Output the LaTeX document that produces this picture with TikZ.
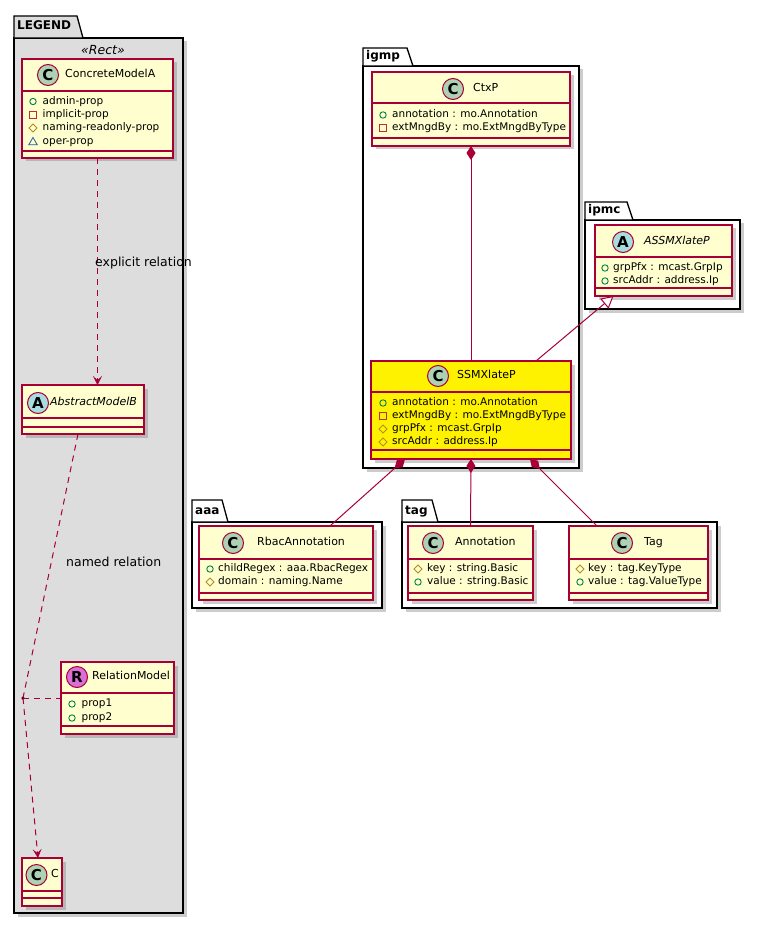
\documentclass[tikz,border=0pt]{standalone}
\usepackage{fontspec}
\setmainfont{DejaVu Sans}
\usetikzlibrary{arrows.meta,shadows}
\definecolor{umlred}{HTML}{A80036}
\definecolor{umlfill}{HTML}{FEFECE}
\definecolor{iconC}{HTML}{ADD1B2}
\definecolor{iconA}{HTML}{A9DCDF}
\definecolor{iconR}{HTML}{DA70D6}
\definecolor{legendgray}{HTML}{DDDDDD}
\definecolor{pubgreen}{HTML}{038048}
\definecolor{privred}{HTML}{C82930}
\definecolor{protgold}{HTML}{B38D22}
\definecolor{pkgblue}{HTML}{1963A0}
\tikzset{
  umlshadow/.style={drop shadow={shadow xshift=3.5pt, shadow yshift=-3.5pt, fill=black!50, opacity=0.4}},
  classbox/.style={rectangle, draw=umlred, line width=1.5pt, inner sep=0pt, outer sep=0pt, umlshadow},
  secline/.style={draw=umlred, line width=1.5pt},
  iconnode/.style={circle, draw=umlred, line width=1pt, minimum size=21pt, inner sep=0pt, font=\fontsize{15}{15}\selectfont\bfseries},
  cname/.style={anchor=west, inner sep=0pt, font=\fontsize{11}{13}\selectfont, text height=8pt, text depth=2.5pt},
  member/.style={anchor=west, inner sep=0pt, font=\fontsize{10.5}{12}\selectfont, text height=7.5pt, text depth=2pt},
  pkgline/.style={draw=black, line width=1.3pt},
  pkgtitle/.style={anchor=west, inner sep=0pt, font=\fontsize{12}{14}\selectfont\bfseries, text height=8.5pt, text depth=2.5pt},
  elabel/.style={anchor=west, inner sep=0pt, font=\fontsize{12.5}{14}\selectfont, text height=9pt, text depth=2.5pt},
  stereo/.style={inner sep=0pt, font=\fontsize{12.5}{14}\selectfont\itshape},
  edge/.style={draw=umlred, line width=1pt},
  dashedge/.style={edge, dash pattern=on 6pt off 5pt},
  dep/.style={dashedge, -{Stealth[length=9pt,width=9pt,inset=4pt,fill=umlred]}},
  comp/.style={edge, {Diamond[length=14pt,width=9pt,fill=umlred]}-},
  gen/.style={edge, -{Triangle[length=12pt,width=13pt,fill=white]}},
}
% #1 name, #2 left, #3 top, #4 right, #5 bottom, #6 name-section bottom, #7 attribute-section bottom, #8 fill
\newcommand\umlclass[8]{%
  \pgfmathsetmacro\clw{#4-#2}\pgfmathsetmacro\clh{#5-#3}%
  \pgfmathsetmacro\clx{(#2+#4)/2}\pgfmathsetmacro\cly{(#3+#5)/2}%
  \node[classbox, fill=#8, minimum width=\clw pt, minimum height=\clh pt] (#1) at (\clx,\cly) {};
  \draw[secline] (#2,#6) -- (#4,#6);
  \draw[secline] (#2,#7) -- (#4,#7);
}
% #1 name, #2 title, #3 left, #4 tabtop, #5 bodytop, #6 right, #7 bottom, #8 tabright, #9 fill
\newcommand\umlpkg[9]{%
  \draw[pkgline, fill=#9, umlshadow] (#3,#5) rectangle (#6,#7);
  \draw[pkgline, fill=#9] (#3,#5) -- (#3,#4) -- (#8-6,#4) -- (#8,#5) -- cycle;
  \node[pkgtitle] (#1) at (#3+3,{(#4+#5)/2}) {#2};
}
\newcommand\vpub[2]{\draw[pubgreen, line width=0.9pt] (#1,#2) circle (3.2pt);}
\newcommand\vpriv[2]{\draw[privred, line width=0.9pt] (#1-3.2,#2-3.2) rectangle (#1+3.2,#2+3.2);}
\newcommand\vprot[2]{\draw[protgold, line width=0.8pt] (#1,#2-4) -- (#1+4,#2) -- (#1,#2+4) -- (#1-4,#2) -- cycle;}
\newcommand\vpkg[2]{\draw[pkgblue, line width=0.8pt] (#1-4.2,#2+3.2) -- (#1+4.2,#2+3.2) -- (#1,#2-4) -- cycle;}
\begin{document}
\begin{tikzpicture}[x=1pt,y=-1pt]
\useasboundingbox (0,0) rectangle (760,925);
\fill[white] (0,0) rectangle (760,925);

% ---------- packages ----------
\umlpkg{pLEGEND}{LEGEND}{14}{16}{38}{183}{913}{83}{legendgray}
\umlpkg{pigmp}{igmp}{363}{48}{66}{579}{468}{413}{white}
\umlpkg{pipmc}{ipmc}{585}{202}{220}{740}{309}{633}{white}
\umlpkg{paaa}{aaa}{192}{500}{522}{382}{608}{228}{white}
\umlpkg{ptag}{tag}{402}{500}{522}{717}{608}{438}{white}
\node[stereo] (stRect) at (103,50) {«Rect»};

% ---------- LEGEND classes ----------
\umlclass{conA}{22}{59}{173}{158}{91}{151}{umlfill}
\node[iconnode, fill=iconC] (iconA1) at (48,75) {C};
\node[cname] (nconA) at (65,75) {ConcreteModelA};
\vpub{33}{101.5}\node[member] (m1) at (42.5,101.5) {admin-prop};
\vpriv{33}{115}\node[member] (m2) at (42.5,115) {implicit-prop};
\vprot{33}{128}\node[member] (m3) at (42.5,128) {naming-readonly-prop};
\vpkg{33}{141.5}\node[member] (m4) at (42.5,141.5) {oper-prop};

\umlclass{absB}{22}{385}{144}{434}{418}{427}{umlfill}
\node[iconnode, fill=iconA] (iconB1) at (38,403) {A};
\node[cname, font=\fontsize{11}{13}\selectfont\itshape] (nabsB) at (50,403) {AbstractModelB};

\umlclass{relM}{61}{662}{174}{734}{693}{726}{umlfill}
\node[iconnode, fill=iconR] (iconR1) at (77,677) {R};
\node[cname] (nrelM) at (92,677) {RelationModel};
\vpub{72}{704}\node[member] (m5) at (81.5,704) {prop1};
\vpub{72}{718}\node[member] (m6) at (81.5,718) {prop2};

\umlclass{clsC}{22}{858}{62}{906}{891}{898}{umlfill}
\node[iconnode, fill=iconC] (iconC1) at (36.5,875) {C};
\node[cname] (nclsC) at (51,875) {C};

\node[circle, fill=black, inner sep=0pt, minimum size=3.5pt] (rdot) at (23,698) {};

% ---------- igmp ----------
\umlclass{ctxp}{372}{72}{570}{146}{103}{138}{umlfill}
\node[iconnode, fill=iconC] (iconCt) at (453,89) {C};
\node[cname] (nctxp) at (473,89) {CtxP};
\vpub{383}{115}\node[member] (m7) at (392,115) {annotation : mo.Annotation};
\vpriv{383}{128}\node[member] (m8) at (392,128) {extMngdBy : mo.ExtMngdByType};

\umlclass{ssm}{371}{361}{571}{459}{392}{450}{yellow}
\node[iconnode, fill=iconC] (iconSs) at (438,376) {C};
\node[cname] (nssm) at (457,376) {SSMXlateP};
\vpub{383}{403}\node[member] (m9) at (392,403) {annotation : mo.Annotation};
\vpriv{383}{416}\node[member] (m10) at (392,416) {extMngdBy : mo.ExtMngdByType};
\vprot{383}{429}\node[member] (m11) at (392,429) {grpPfx : mcast.GrpIp};
\vprot{383}{442}\node[member] (m12) at (392,442) {srcAddr : address.Ip};

% ---------- ipmc ----------
\umlclass{assm}{595}{225}{732}{296}{257}{288}{umlfill}
\node[iconnode, fill=iconA] (iconAs) at (623,242) {A};
\node[cname, font=\fontsize{11}{13}\selectfont\itshape] (nassm) at (644,242) {ASSMXlateP};
\vpub{605}{268}\node[member] (m13) at (613,268) {grpPfx : mcast.GrpIp};
\vpub{605}{281}\node[member] (m14) at (613,281) {srcAddr : address.Ip};

% ---------- aaa ----------
\umlclass{rbac}{199}{526}{373}{600}{559}{593}{umlfill}
\node[iconnode, fill=iconC] (iconRb) at (233,543) {C};
\node[cname] (nrbac) at (257,543) {RbacAnnotation};
\vpub{210}{569}\node[member] (m15) at (218,569) {childRegex : aaa.RbacRegex};
\vprot{210}{582}\node[member] (m16) at (218,582) {domain : naming.Name};

% ---------- tag ----------
\umlclass{annot}{408}{526}{533}{600}{559}{593}{umlfill}
\node[iconnode, fill=iconC] (iconAn) at (433,543) {C};
\node[cname] (nannot) at (455,543) {Annotation};
\vprot{418}{569}\node[member] (m17) at (427,569) {key : string.Basic};
\vpub{418}{582}\node[member] (m18) at (427,582) {value : string.Basic};

\umlclass{tag}{569}{526}{708}{600}{559}{593}{umlfill}
\node[iconnode, fill=iconC] (iconTg) at (622,543) {C};
\node[cname] (ntag) at (644,543) {Tag};
\vprot{580}{569}\node[member] (m19) at (588,569) {key : tag.KeyType};
\vpub{580}{582}\node[member] (m20) at (588,582) {value : tag.ValueType};

% ---------- connectors ----------
\draw[dep] (conA.south) -- (conA.south |- absB.north);
\node[elabel] (lab1) at (95,263) {explicit relation};
\draw[pkgline] (183,38) -- (183,913); % package border drawn over the overflowing label
\draw[dashedge] ([xshift=-5pt]absB.south) -- (rdot.center);
\draw[dep] (rdot.center) -- ([xshift=-4pt]clsC.north);
\draw[dashedge] (rdot.center) -- (relM.west);
\node[elabel] (lab2) at (66,563) {named relation};

\draw[comp] (ctxp.south) -- (ssm.north);
\draw[gen] ([xshift=65pt]ssm.north) -- ([xshift=-50pt]assm.south);
\draw[comp] ([xshift=-66pt]ssm.south) -- ([xshift=44pt]rbac.north);
\draw[comp] (ssm.south) -- (annot.north);
\draw[comp] ([xshift=59pt]ssm.south) -- ([xshift=-41.5pt]tag.north);
\end{tikzpicture}
\end{document}
